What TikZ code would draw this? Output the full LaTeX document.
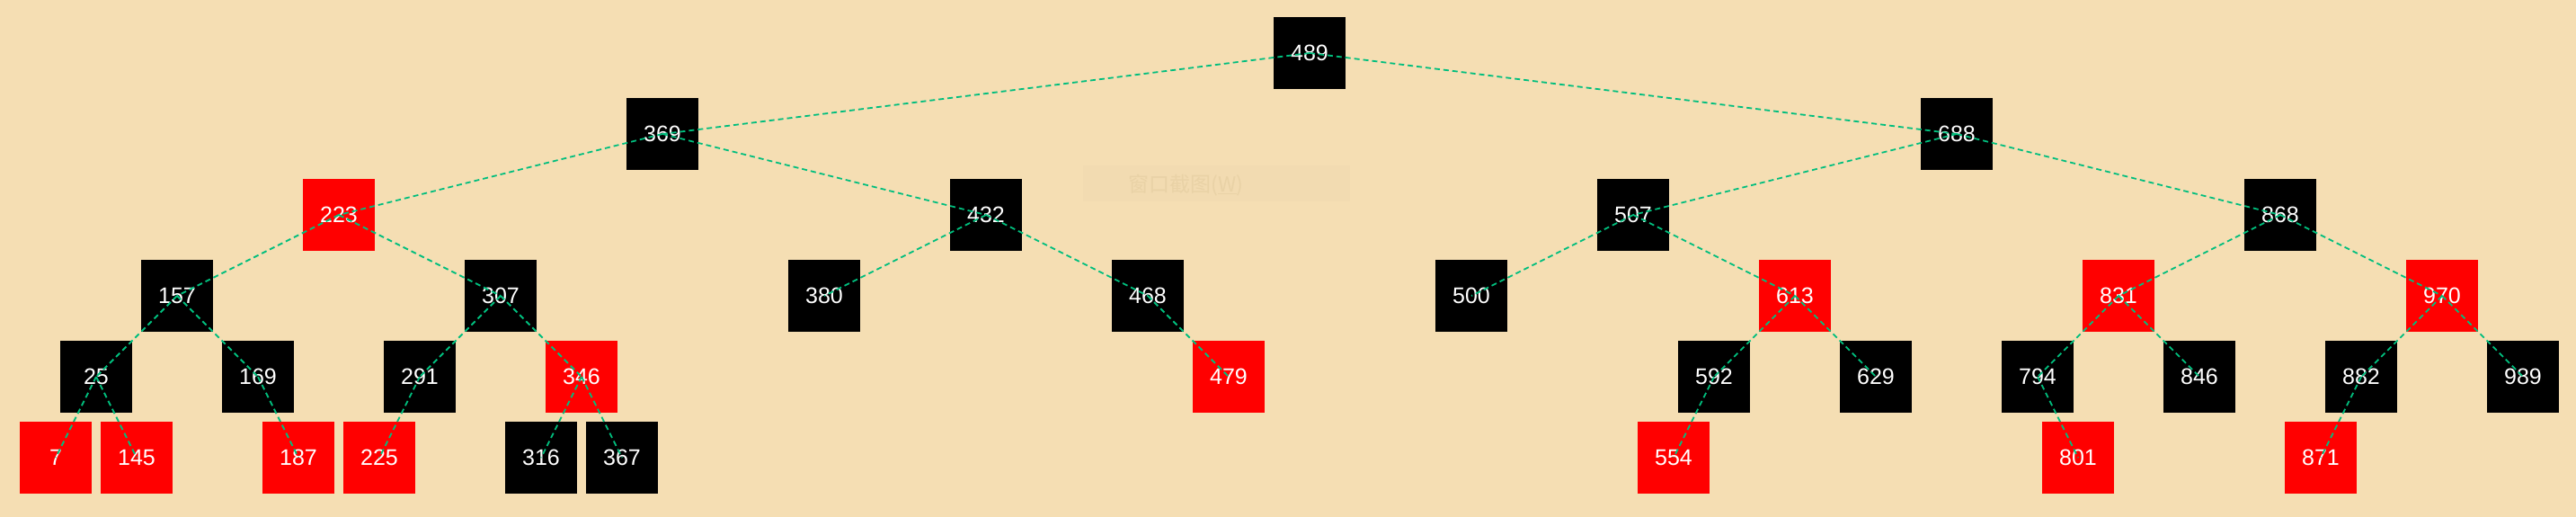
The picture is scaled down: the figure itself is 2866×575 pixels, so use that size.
\documentclass[tikz,border=0pt]{standalone}
\usepackage{fontspec}
\setmainfont{Liberation Sans}
\newfontfamily\cjk{Noto Sans CJK SC}
\definecolor{bgwheat}{RGB}{245,222,179}
\definecolor{edgegreen}{RGB}{0,190,125}
\definecolor{faintbox}{RGB}{242,219,177}
\definecolor{fainttext}{RGB}{233,210,166}
\definecolor{nodered}{RGB}{255,0,0}
\tikzset{
  treenode/.style={minimum width=80pt,minimum height=80pt,inner sep=0pt,text=white,font=\fontsize{25}{30}\selectfont},
  blk/.style={treenode,fill=black},
  rd/.style={treenode,fill=nodered},
  edge/.style={draw=edgegreen,line width=1.8pt,dash pattern=on 6pt off 4pt}
}
\begin{document}
\begin{tikzpicture}[x=1pt,y=1pt]
\fill[bgwheat] (0,0) rectangle (2866,-575);
\useasboundingbox (0,0) rectangle (2866,-575);
% faint tooltip artefact
\node[fill=faintbox,minimum width=297pt,minimum height=40pt,inner sep=0pt] (tip) at (1353.5,-204) {};
\node[text=fainttext,font=\cjk\fontsize{23}{26}\selectfont,anchor=west] (tiptext) at (1252,-206) {窗口截图(\underline{W})};
% level 0
\node[blk] (n489) at (1457,-59) {489};
% level 1
\node[blk] (n369) at (737,-149) {369};
\node[blk] (n688) at (2177,-149) {688};
% level 2
\node[rd]  (n223) at (377,-239) {223};
\node[blk] (n432) at (1097,-239) {432};
\node[blk] (n507) at (1817,-239) {507};
\node[blk] (n868) at (2537,-239) {868};
% level 3
\node[blk] (n157) at (197,-329) {157};
\node[blk] (n307) at (557,-329) {307};
\node[blk] (n380) at (917,-329) {380};
\node[blk] (n468) at (1277,-329) {468};
\node[blk] (n500) at (1637,-329) {500};
\node[rd]  (n613) at (1997,-329) {613};
\node[rd]  (n831) at (2357,-329) {831};
\node[rd]  (n970) at (2717,-329) {970};
% level 4
\node[blk] (n25)  at (107,-419) {25};
\node[blk] (n169) at (287,-419) {169};
\node[blk] (n291) at (467,-419) {291};
\node[rd]  (n346) at (647,-419) {346};
\node[rd]  (n479) at (1367,-419) {479};
\node[blk] (n592) at (1907,-419) {592};
\node[blk] (n629) at (2087,-419) {629};
\node[blk] (n794) at (2267,-419) {794};
\node[blk] (n846) at (2447,-419) {846};
\node[blk] (n882) at (2627,-419) {882};
\node[blk] (n989) at (2807,-419) {989};
% level 5
\node[rd]  (n7)   at (62,-509) {7};
\node[rd]  (n145) at (152,-509) {145};
\node[rd]  (n187) at (332,-509) {187};
\node[rd]  (n225) at (422,-509) {225};
\node[blk] (n316) at (602,-509) {316};
\node[blk] (n367) at (692,-509) {367};
\node[rd]  (n554) at (1862,-509) {554};
\node[rd]  (n801) at (2312,-509) {801};
\node[rd]  (n871) at (2582,-509) {871};
% edges
\foreach \p/\c in {489/369,489/688,369/223,369/432,688/507,688/868,
  223/157,223/307,432/380,432/468,507/500,507/613,868/831,868/970,
  157/25,157/169,307/291,307/346,468/479,613/592,613/629,831/794,831/846,970/882,970/989,
  25/7,25/145,169/187,291/225,346/316,346/367,592/554,794/801,882/871}
  \draw[edge] (n\p.center) -- (n\c.center);
\end{tikzpicture}
\end{document}
